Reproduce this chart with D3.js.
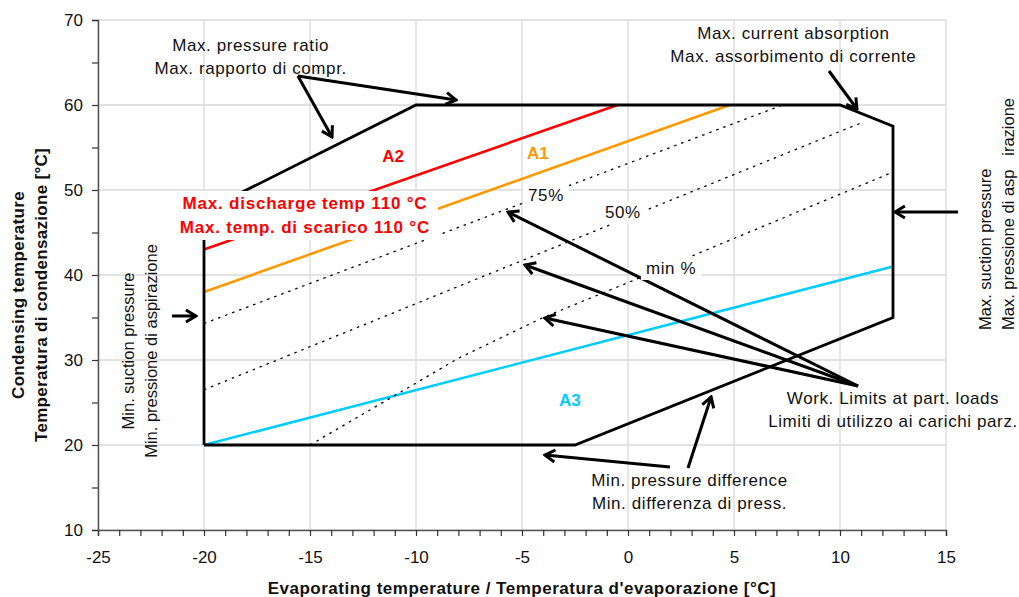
<!DOCTYPE html>
<html>
<head>
<meta charset="utf-8">
<script src="https://cdn.jsdelivr.net/npm/d3@7"></script>
<style>
body{margin:0;background:#fff}
text{font-family:"Liberation Sans",Arial,sans-serif}
</style>
</head>
<body>
<div id="chart"></div>
<script>

// axis ticks
const xTicks=[-25,-20,-15,-10,-5,0,5,10,15]
const yTicks=[10,20,30,40,50,60,70]

// operating envelope [evap, cond]
const envelope=[[-20,20],[-20,47.5],[-10,60],[10,60],[12.5,57.5],[12.5,35],[-2.5,20],[-20,20]]

// limit lines
const limitA2=[[-20,43],[-0.5,60]]
const limitA1=[[-20,38],[4.8,60]]
const limitA3=[[-20,20],[12.5,41]]

// partial load limits
const load75=[[-20,34.3],[7.3,60]]
const load50=[[-20,26.5],[11.1,58]]
const loadMin=[[-15,20],[-8,30.2],[-4,35],[0,39.1],[12.4,52]]

// annotation arrows [from, to]
const arrows=[
[[-15.57,63.41],[-13.96,56.24]],
[[-15.57,63.41],[-8.11,60.59]],
[[9.48,64],[10.8,59.53]],
[[-21.51,35.18],[-20.38,35.18]],
[[15.57,47.41],[12.59,47.41]],
[[10.85,26.94],[-5.66,47.41]],
[[10.85,26.94],[-4.86,41.18]],
[[10.85,26.94],[-3.92,34.94]],
[[2.83,17.29],[3.92,25.65]],
[[1.98,17.41],[-3.92,18.82]]
]

// annotation texts, anchored at [evap, cond] of first line
const notes=[
{lines:["Max. pressure ratio","Max. rapporto di compr."],at:[-17.8,67.06]},
{lines:["Max. current absorption","Max. assorbimento di corrente"],at:[7.8,68.47]},
{lines:["Work. Limits at part. loads","Limiti di utilizzo ai carichi parz."],at:[12.5,25.53]},
{lines:["Min. pressure difference","Min. differenza di press."],at:[2.9,15.88]}
]

const loadLabels=[
{text:"75%",at:[-3.87,49.41]},
{text:"50%",at:[-0.24,47.4]},
{text:"min %",at:[2.03,40.82]}
]

const zoneLabels=[
{text:"A2",at:[-11.08,54]},
{text:"A1",at:[-4.25,54.4]},
{text:"A3",at:[-2.74,25.3]}
]
const zoneColors=["#ff0000","#ff9900","#00ccff"]

const dischargeLines=["Max. discharge temp 110 °C","Max. temp. di scarico 110 °C"]

const width=1019
const height=597
const margin={top:20,right:73,bottom:67,left:98}

const svg=d3.select("#chart")
.append("svg")
.attr("width",width)
.attr("height",height)

const x=d3.scaleLinear().domain([-25,15]).range([margin.left,width-margin.right])
const y=d3.scaleLinear().domain([10,70]).range([height-margin.bottom,margin.top])

// grid
svg.append("g")
.selectAll("line.gx")
.data(xTicks)
.enter()
.append("line")
.attr("x1",d=>x(d)).attr("x2",d=>x(d))
.attr("y1",y(10)).attr("y2",y(70))
.attr("stroke","#d9d9d9")
.attr("stroke-width",1.3)

svg.append("g")
.selectAll("line.gy")
.data(yTicks)
.enter()
.append("line")
.attr("x1",x(-25)).attr("x2",x(15))
.attr("y1",d=>y(d)).attr("y2",d=>y(d))
.attr("stroke","#d9d9d9")
.attr("stroke-width",1.3)

// axes
const xAxis=svg.append("g")
.attr("transform","translate(0,"+y(10)+")")
.call(d3.axisBottom(x).tickValues(d3.range(-25,15.1,1)).tickSize(6).tickFormat(d=>xTicks.includes(d)?d:""))

const yAxis=svg.append("g")
.attr("transform","translate("+x(-25)+",0)")
.call(d3.axisLeft(y).tickValues(d3.range(10,70.1,5)).tickSize(6).tickFormat(d=>yTicks.includes(d)?d:""))

;[xAxis,yAxis].forEach(g=>{
g.select(".domain").attr("stroke","#555").attr("stroke-width",1.5)
g.selectAll(".tick line").attr("stroke","#333").attr("stroke-width",1.2)
g.selectAll(".tick text").attr("fill","#111").style("font-size","17px").style("font-family","Liberation Sans, Arial, sans-serif")
})
xAxis.selectAll(".tick text").attr("y",21).attr("dy","0.71em")
yAxis.selectAll(".tick text").attr("x",-15)

const line=d3.line().x(d=>x(d[0])).y(d=>y(d[1]))

// colored limits
;[limitA2,limitA1,limitA3].forEach((d,i)=>{
svg.append("path").attr("d",line(d)).attr("fill","none").attr("stroke",zoneColors[i]).attr("stroke-width",2.6)
})

// partial loads
;[load75,load50,loadMin].forEach(d=>{
svg.append("path").attr("d",line(d)).attr("fill","none").attr("stroke","#000").attr("stroke-width",1.3).attr("stroke-dasharray","2.5,5")
})

// envelope
svg.append("path")
.attr("d",line(envelope))
.attr("fill","none")
.attr("stroke","#000")
.attr("stroke-width",2.8)
.attr("stroke-linejoin","miter")

// arrows
svg.append("defs").append("marker")
.attr("id","arrow")
.attr("markerUnits","userSpaceOnUse")
.attr("viewBox","-14 -9 16 18")
.attr("markerWidth",16).attr("markerHeight",18)
.attr("refX",0).attr("refY",0)
.attr("orient","auto")
.append("path")
.attr("d","M-10,-6L0,0L-10,6")
.attr("fill","none")
.attr("stroke","#000")
.attr("stroke-width",3)

svg.append("g")
.selectAll("line")
.data(arrows)
.enter()
.append("line")
.attr("x1",d=>x(d[0][0])).attr("y1",d=>y(d[0][1]))
.attr("x2",d=>x(d[1][0])).attr("y2",d=>y(d[1][1]))
.attr("stroke","#000")
.attr("stroke-width",3)
.attr("marker-end","url(#arrow)")

// boxed labels
function boxed(lines,cx,cy,pad,style){
const g=svg.append("g")
const rect=g.append("rect").attr("fill","#fff")
const t=g.append("text")
.attr("text-anchor","middle")
.style("font-size","17px")
lines.forEach((l,i)=>{
t.append("tspan").attr("x",cx).attr("y",cy+i*24).attr("dy","0.35em").text(l)
})
style(t)
const b=t.node().getBBox()
rect.attr("x",b.x-pad[0]).attr("y",b.y-pad[1]).attr("width",b.width+2*pad[0]).attr("height",b.height+2*pad[1])
}

loadLabels.forEach(d=>{
boxed([d.text],x(d.at[0]),y(d.at[1]),[5,2],t=>t.attr("fill","#111").style("letter-spacing","0.6px"))
})

boxed(dischargeLines,x(-15.24),y(48.47),[8,3],t=>t.attr("fill","#ff0000").style("font-weight","bold").style("letter-spacing","0.8px"))

// zone labels
svg.append("g")
.selectAll("text")
.data(zoneLabels)
.enter()
.append("text")
.attr("x",d=>x(d.at[0]))
.attr("y",d=>y(d.at[1]))
.attr("dy","0.35em")
.attr("text-anchor","middle")
.attr("fill",(d,i)=>zoneColors[i])
.style("font-size","17px")
.style("font-weight","bold")
.text(d=>d.text)

// notes
notes.forEach(n=>{
const t=svg.append("text")
.attr("text-anchor","middle")
.attr("fill","#111")
.style("font-size","17px")
.style("letter-spacing","0.6px")
n.lines.forEach((l,i)=>{
t.append("tspan").attr("x",x(n.at[0])).attr("y",y(n.at[1])+i*23).attr("dy","0.35em").text(l)
})
})

// rotated notes
function vtext(lines,cx,cy,anchor,gap,style){
const t=svg.append("text")
.attr("transform","translate("+cx+","+cy+") rotate(-90)")
.attr("text-anchor",anchor)
.attr("xml:space","preserve")
.style("white-space","pre")
.style("font-size","16.5px")
lines.forEach((l,i)=>{
t.append("tspan").attr("x",0).attr("y",i*gap).attr("dy","0.35em").text(l)
})
style(t)
}

vtext(["Min. suction pressure","Min. pressione di aspirazione"],128,351,"middle",23,t=>t.attr("fill","#111"))
vtext(["Max. suction pressure","Max. pressione di asp   irazione"],985,330,"start",23,t=>t.attr("fill","#111"))

// axis titles
vtext(["Condensing temperature","Temperatura di condensazione [°C]"],18,295,"middle",23,t=>t.attr("fill","#111").style("font-size","17px").style("font-weight","bold").style("letter-spacing","0.3px"))

svg.append("text")
.attr("x",522)
.attr("y",588)
.attr("dy","0.35em")
.attr("text-anchor","middle")
.attr("fill","#111")
.style("font-size","17px")
.style("font-weight","bold")
.style("letter-spacing","0.5px")
.text("Evaporating temperature / Temperatura d'evaporazione [°C]")

</script>
</body>
</html>
